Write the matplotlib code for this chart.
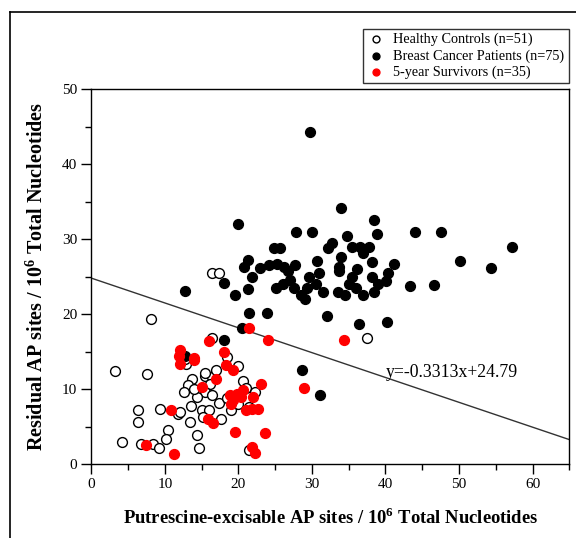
import matplotlib
matplotlib.use("Agg")
import matplotlib.pyplot as plt
from matplotlib.lines import Line2D
import numpy as np

plt.rcParams['font.family'] = ['Liberation Serif', 'DejaVu Serif']
plt.rcParams['mathtext.fontset'] = 'custom'
plt.rcParams['mathtext.rm'] = 'Liberation Serif'
plt.rcParams['mathtext.bf'] = 'Liberation Serif:bold'

healthy_x = [3.2, 7.6, 12.9, 19.9, 15.5, 16.4, 13.7, 13.1, 12.6, 16.2, 20.6, 21.1, 22.2, 15.4,
             16.4, 14.4, 17.4, 13.6, 19.0, 21.5, 6.4, 9.4, 11.8, 15.0, 16.0, 15.2, 17.6, 6.3,
             13.4, 10.4, 10.2, 14.4, 4.2, 6.7, 8.4, 9.2, 14.7, 21.5, 16.4, 17.3, 8.1, 16.4,
             37.5, 12.8, 15.4, 12.0, 17.0, 18.5, 20.0, 14.0, 18.5]
healthy_y = [12.4, 12.0, 13.4, 13.1, 11.8, 11.6, 11.4, 10.5, 9.6, 10.7, 11.1, 10.1, 9.6, 9.6,
             9.2, 8.9, 8.1, 7.7, 7.2, 7.6, 7.2, 7.3, 6.7, 7.2, 7.2, 6.3, 6.0, 5.6,
             5.6, 4.5, 3.4, 3.9, 2.9, 2.7, 2.7, 2.2, 2.2, 1.9, 25.5, 25.5, 19.3, 16.8,
             16.8, 14.0, 12.1, 6.9, 12.6, 14.3, 8.0, 10.0, 8.8]

cancer_x = [29.7, 33.9, 20.0, 38.5, 38.8, 27.8, 30.0, 34.7, 24.9, 25.7, 32.7, 32.2, 35.4, 36.6,
            37.7, 37.0, 34.0, 21.3, 20.7, 23.0, 24.2, 25.3, 26.2, 26.7, 27.7, 30.7, 33.7, 33.7,
            36.1, 38.2, 41.1, 40.4, 21.9, 29.6, 38.2, 44.0, 47.6, 50.1, 57.2, 54.3, 40.1, 43.3,
            18.0, 19.5, 21.3, 25.1, 21.4, 23.9, 20.5, 18.0, 12.8, 12.8, 28.6, 31.1, 32.0, 36.4,
            40.2, 46.6, 27.5, 28.5, 29.0, 30.5, 31.5, 33.5, 34.5, 35.0, 36.0, 37.0, 38.5, 39.0,
            27.0, 26.0, 31.0, 35.5, 29.3]
cancer_y = [44.3, 34.1, 32.0, 32.6, 30.7, 31.0, 31.0, 30.4, 28.8, 28.8, 29.5, 28.8, 28.9, 28.9,
            29.0, 28.2, 27.6, 27.2, 26.3, 26.1, 26.5, 26.7, 26.3, 25.7, 26.6, 27.1, 26.3, 25.8,
            26.0, 27.0, 26.7, 25.5, 25.0, 25.0, 25.0, 31.0, 31.0, 27.1, 28.9, 26.1, 24.4, 23.8,
            24.1, 22.6, 23.3, 23.5, 20.2, 20.1, 18.1, 16.6, 14.4, 23.1, 12.5, 9.2, 19.7, 18.7,
            19.0, 23.9, 23.5, 22.5, 22.0, 24.0, 23.0, 23.0, 22.5, 24.0, 23.5, 22.5, 23.0, 24.0,
            24.5, 24.0, 25.5, 25.0, 23.5]

surv_x = [12.0, 14.0, 18.3, 19.3, 16.9, 15.0, 23.1, 18.9, 19.3, 19.8, 20.3, 19.0, 22.0, 10.9,
          21.1, 21.9, 22.6, 15.9, 16.5, 19.6, 23.6, 7.5, 11.3, 21.9, 22.3, 21.5, 24.0, 16.0,
          18.0, 12.0, 14.0, 11.9, 34.4, 28.9, 20.6]
surv_y = [13.4, 13.9, 13.2, 12.5, 11.3, 10.3, 10.7, 9.2, 8.6, 9.4, 8.9, 8.0, 8.9, 7.2,
          7.2, 7.3, 7.4, 6.0, 5.5, 4.3, 4.1, 2.6, 1.3, 2.3, 1.5, 18.2, 16.5, 16.4,
          15.0, 15.2, 14.1, 14.4, 16.5, 10.1, 9.9]

slope, intercept = -0.3313, 24.79
labels = ["Healthy Controls (n=51)", "Breast Cancer Patients (n=75)", "5-year Survivors (n=35)"]

fig = plt.figure(figsize=(5.76, 5.38), dpi=100)
ax = fig.add_axes([0.1585, 0.1375, 0.830, 0.697])

ms = 50
h1 = ax.scatter(healthy_x, healthy_y, s=ms, facecolors='white', edgecolors='black', linewidths=1.0, zorder=3)
h2 = ax.scatter(cancer_x, cancer_y, s=ms, color='black', zorder=3)
h3 = ax.scatter(surv_x, surv_y, s=ms, color='#ff0000', zorder=4)

lx = np.array([0, 65])
ax.plot(lx, slope * lx + intercept, color='#333333', lw=1.0, zorder=2)
ax.text(40.0, 12.2, "y=-0.3313x+24.79", fontsize=12.8, ha='left', va='center')

ax.set_xlim(0, 65)
ax.set_ylim(0, 50)
ax.set_xticks(range(0, 61, 10))
ax.set_xticks(range(5, 66, 10), minor=True)
ax.set_yticks(range(0, 51, 10))
ax.set_yticks(range(5, 50, 10), minor=True)
ax.tick_params(which='major', direction='out', length=7, width=1, labelsize=11, pad=3)
ax.tick_params(which='minor', direction='out', length=4, width=1)
for s in ax.spines.values():
    s.set_linewidth(1.0)

ax.set_xlabel(r"Putrescine-excisable AP sites / 10$^{\mathbf{6}}$ Total Nucleotides",
              fontsize=13.4, fontweight='bold', labelpad=12)
ax.set_ylabel(r"Residual AP sites / 10$^{\mathbf{6}}$ Total Nucleotides",
              fontsize=14.5, fontweight='bold', labelpad=10)

leg = fig.legend([h1, h2, h3], labels, loc='upper right', bbox_to_anchor=(0.987, 0.947),
                 fontsize=10.3, frameon=True, fancybox=False, edgecolor='black',
                 handletextpad=0.6, borderpad=0.3, labelspacing=0.2, markerscale=0.7,
                 handlelength=1.2, borderaxespad=0)
leg.get_frame().set_linewidth(1.0)

fig.add_artist(Line2D([10/576, 10/576], [0, 1 - 12/538], color='black', lw=1.2, transform=fig.transFigure))
fig.add_artist(Line2D([10/576, 1], [1 - 12/538, 1 - 12/538], color='black', lw=1.2, transform=fig.transFigure))

fig.savefig("out.png", dpi=100)
